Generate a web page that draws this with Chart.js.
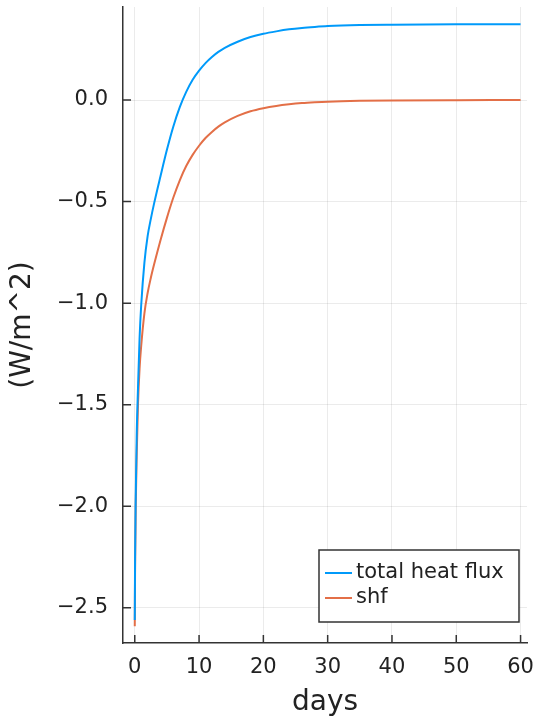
<!DOCTYPE html>
<html>
<head>
<meta charset="utf-8">
<script src="https://cdn.jsdelivr.net/npm/chart.js@4.4.0/dist/chart.umd.min.js"></script>
<style>
  html, body { margin: 0; padding: 0; background: #fff; }
  #wrap { width: 536px; height: 722px; }
</style>
</head>
<body>
<div id="wrap"><canvas id="fluxChart"></canvas></div>
<script>
// values (days -> W/m^2)
const totalDays = [0, 0.05, 0.15, 0.3, 0.5, 0.75, 1, 1.5, 2, 2.5, 3, 4, 5, 6, 7, 8, 9, 10, 11, 12, 13, 14, 16, 18, 20, 22, 24, 26, 28, 30, 35, 40, 50, 60];
const totalFlux = [-2.56, -2.25, -1.95, -1.65, -1.42, -1.17, -1.01, -0.80, -0.67, -0.585, -0.51, -0.375, -0.245, -0.13, -0.035, 0.04, 0.10, 0.145, 0.182, 0.212, 0.237, 0.257, 0.287, 0.31, 0.326, 0.338, 0.348, 0.355, 0.36, 0.364, 0.369, 0.371, 0.373, 0.373];
const shfDays = [0, 0.05, 0.15, 0.3, 0.5, 0.75, 1, 1.5, 2, 2.5, 3, 4, 5, 6, 7, 8, 9, 10, 11, 12, 13, 14, 16, 18, 20, 22, 24, 26, 28, 30, 35, 40, 50, 60];
const shfFlux = [-2.59, -2.3, -2.0, -1.75, -1.5, -1.32, -1.21, -1.05, -0.95, -0.875, -0.81, -0.69, -0.58, -0.48, -0.395, -0.325, -0.27, -0.225, -0.187, -0.157, -0.131, -0.11, -0.078, -0.055, -0.04, -0.029, -0.021, -0.015, -0.011, -0.008, -0.004, -0.002, -0.0005, 0.0];
const xTicks = [0, 10, 20, 30, 40, 50, 60];
const yTicks = [-2.5, -2.0, -1.5, -1.0, -0.5, 0.0];

const FONT = 'DejaVu Sans';
const AXIS = '#333';

// julia-style ticks that point into the plot
const innerTicks = {
    id: 'innerTicks',
    afterDatasetsDraw(chart) {
        const { ctx, chartArea, scales } = chart;
        ctx.save();
        ctx.strokeStyle = AXIS;
        ctx.lineWidth = 1.5;
        ctx.beginPath();
        xTicks.forEach(v => {
            const px = scales.x.getPixelForValue(v);
            ctx.moveTo(px, chartArea.bottom);
            ctx.lineTo(px, chartArea.bottom - 8);
        });
        yTicks.forEach(v => {
            const py = scales.y.getPixelForValue(v);
            ctx.moveTo(chartArea.left, py);
            ctx.lineTo(chartArea.left + 8, py);
        });
        ctx.stroke();
        ctx.restore();
    }
};

// boxed legend in the bottom right corner
const boxLegend = {
    id: 'boxLegend',
    afterDraw(chart) {
        const { ctx, chartArea } = chart;
        const w = 200, h = 72;
        const x0 = chartArea.right - 8 - w;
        const y0 = chartArea.bottom - 21 - h;
        ctx.save();
        ctx.fillStyle = '#fff';
        ctx.fillRect(x0, y0, w, h);
        ctx.strokeStyle = AXIS;
        ctx.lineWidth = 1.5;
        ctx.strokeRect(x0, y0, w, h);
        ctx.font = '21px "' + FONT + '"';
        ctx.textBaseline = 'middle';
        chart.data.datasets.forEach((ds, i) => {
            const y = y0 + 23 + i * 25;
            ctx.strokeStyle = ds.borderColor;
            ctx.lineWidth = 2;
            ctx.beginPath();
            ctx.moveTo(x0 + 6, y);
            ctx.lineTo(x0 + 33, y);
            ctx.stroke();
            ctx.fillStyle = '#222';
            ctx.fillText(ds.label, x0 + 37, y);
        });
        ctx.restore();
    }
};

function pairs(xs, ys) {
    return xs.map((x, i) => ({ x: x, y: ys[i] }));
}

new Chart(document.getElementById('fluxChart'), {
    type: 'line',
    data: {
        datasets: [{
            label: 'total heat flux',
            data: pairs(totalDays, totalFlux),
            borderColor: '#009afa',
            borderWidth: 2,
            pointRadius: 0,
            cubicInterpolationMode: 'monotone',
            fill: false
        }, {
            label: 'shf',
            data: pairs(shfDays, shfFlux),
            borderColor: '#e36f47',
            borderWidth: 2,
            pointRadius: 0,
            cubicInterpolationMode: 'monotone',
            fill: false
        }]
    },
    options: {
        responsive: true,
        maintainAspectRatio: false,
        animation: false,
        layout: { padding: { top: 7, right: 9, left: 0, bottom: 0 } },
        plugins: {
            legend: { display: false },
            tooltip: { enabled: false }
        },
        scales: {
            x: {
                type: 'linear',
                min: -1.83,
                max: 61.0,
                afterBuildTicks: s => { s.ticks = xTicks.map(v => ({ value: v })); },
                afterFit: s => {
                    s.height = 79;
                    s.paddingLeft = 0;
                    s.paddingRight = 0;
                },
                grid: { color: 'rgba(0,0,0,0.08)', drawTicks: false },
                border: { color: AXIS, width: 1.5 },
                ticks: {
                    font: { family: FONT, size: 21 },
                    color: '#222',
                    padding: 12,
                    maxRotation: 0
                },
                title: {
                    display: true,
                    text: 'days',
                    font: { family: FONT, size: 28 },
                    color: '#222',
                    padding: { top: 4, bottom: 2 }
                }
            },
            y: {
                type: 'linear',
                min: -2.673,
                max: 0.458,
                afterBuildTicks: s => { s.ticks = yTicks.map(v => ({ value: v })); },
                afterFit: s => {
                    s.width = 123;
                    s.paddingTop = 0;
                    s.paddingBottom = 0;
                },
                grid: { color: 'rgba(0,0,0,0.08)', drawTicks: false },
                border: { color: AXIS, width: 1.5 },
                ticks: {
                    font: { family: FONT, size: 21 },
                    color: '#222',
                    padding: 15,
                    callback: v => v.toFixed(1).replace('-', '\u2212')
                },
                title: {
                    display: true,
                    text: '(W/m^2)',
                    font: { family: FONT, size: 28 },
                    color: '#222',
                    padding: { top: 6, bottom: 4 }
                }
            }
        }
    },
    plugins: [innerTicks, boxLegend]
});
</script>
</body>
</html>
